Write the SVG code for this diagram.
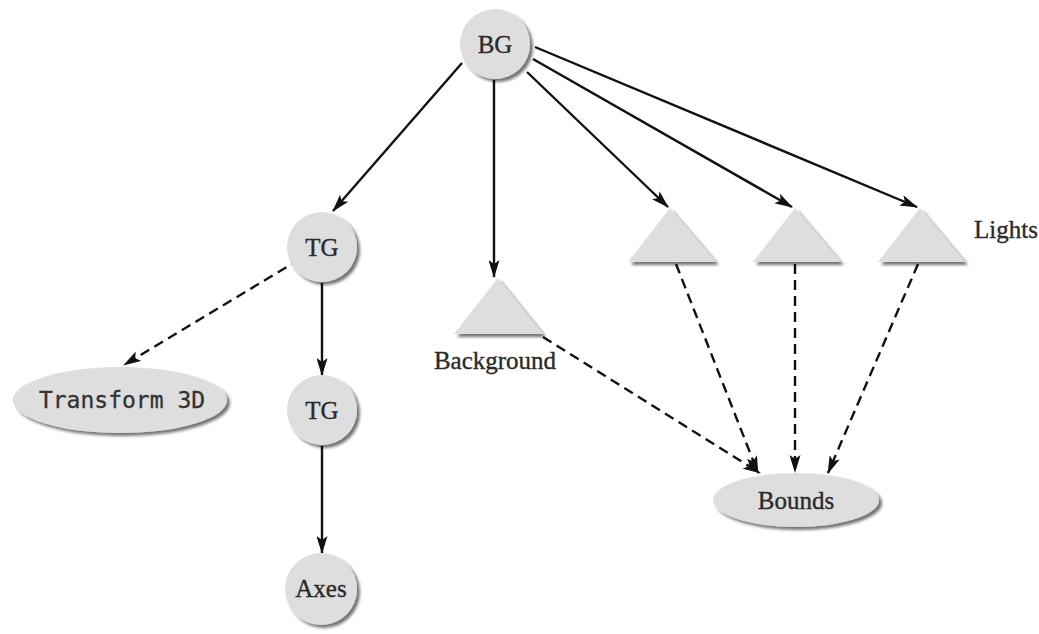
<svg xmlns="http://www.w3.org/2000/svg" width="1039" height="634" viewBox="0 0 1039 634">
  <defs>
    <filter id="shade" x="-20%" y="-20%" width="150%" height="150%">
      <feGaussianBlur in="SourceAlpha" stdDeviation="1.5" result="b"/>
      <feOffset in="b" dx="3" dy="3" result="o"/>
      <feComponentTransfer in="o" result="s">
        <feFuncA type="linear" slope="0.55"/>
      </feComponentTransfer>
      <feMerge>
        <feMergeNode in="s"/>
        <feMergeNode in="SourceGraphic"/>
      </feMerge>
    </filter>
    <marker id="arrow" viewBox="0 0 18 11" refX="17" refY="5.5" markerWidth="18" markerHeight="11" markerUnits="userSpaceOnUse" orient="auto">
      <path d="M0,0 L18,5.5 L0,11 L4,5.5 Z" fill="#111"/>
    </marker>
    <style>
      .node { fill: #dedede; filter: url(#shade); }
      .label { font-family: "Liberation Serif", "Times New Roman", serif; font-size: 25px; fill: #2a2a2a; stroke: #2a2a2a; stroke-width: 0.35; text-anchor: middle; }
      .mono { font-family: "DejaVu Sans Mono", "Liberation Mono", monospace; font-size: 23px; fill: #333; stroke: #333; stroke-width: 0.3; text-anchor: middle; }
      .edge { stroke: #111; stroke-width: 2.4; fill: none; marker-end: url(#arrow); }
      .dash { stroke-dasharray: 10 6; }
    </style>
  </defs>
  <rect width="1039" height="634" fill="#ffffff"/>

  <g id="connectors">
    <line class="edge" x1="462" y1="63" x2="333" y2="211"/>
    <line class="edge" x1="494" y1="80" x2="494" y2="277"/>
    <line class="edge" x1="527" y1="72" x2="668" y2="207"/>
    <line class="edge" x1="533" y1="59" x2="792" y2="207"/>
    <line class="edge" x1="535" y1="47" x2="917" y2="207"/>
    <line class="edge dash" x1="300" y1="259" x2="124" y2="365"/>
    <line class="edge" x1="322" y1="283" x2="322" y2="375"/>
    <line class="edge" x1="322" y1="446" x2="322" y2="553"/>
    <line class="edge dash" x1="543" y1="337" x2="760" y2="473"/>
    <line class="edge dash" x1="676" y1="264" x2="758" y2="473"/>
    <line class="edge dash" x1="795" y1="264" x2="795" y2="472"/>
    <line class="edge dash" x1="918" y1="264" x2="828" y2="473"/>
  </g>

  <g id="bg">
    <circle class="node" cx="495" cy="44" r="35"/>
    <text class="label" x="495" y="53">BG</text>
  </g>
  <g id="tg1">
    <circle class="node" cx="322" cy="247" r="35"/>
    <text class="label" x="322" y="256">TG</text>
  </g>
  <g id="transform3d">
    <ellipse class="node" cx="120" cy="400" rx="107" ry="33"/>
    <text class="mono" x="122" y="408">Transform 3D</text>
  </g>
  <g id="tg2">
    <circle class="node" cx="322" cy="410" r="35"/>
    <text class="label" x="322" y="419">TG</text>
  </g>
  <g id="axes">
    <circle class="node" cx="321" cy="589" r="36"/>
    <text class="label" x="321" y="597">Axes</text>
  </g>
  <g id="background">
    <polygon class="node" points="498,278 543,334 454,334"/>
    <text class="label" x="495" y="369">Background</text>
  </g>
  <g id="light1">
    <polygon class="node" points="670,208 716,262 628,262"/>
  </g>
  <g id="light2">
    <polygon class="node" points="795,208 841,262 753,262"/>
  </g>
  <g id="light3">
    <polygon class="node" points="920,208 965,262 878,262"/>
    <text class="label" x="1006" y="238">Lights</text>
  </g>
  <g id="bounds">
    <ellipse class="node" cx="796" cy="500" rx="83" ry="27"/>
    <text class="label" x="796" y="509">Bounds</text>
  </g>
</svg>
